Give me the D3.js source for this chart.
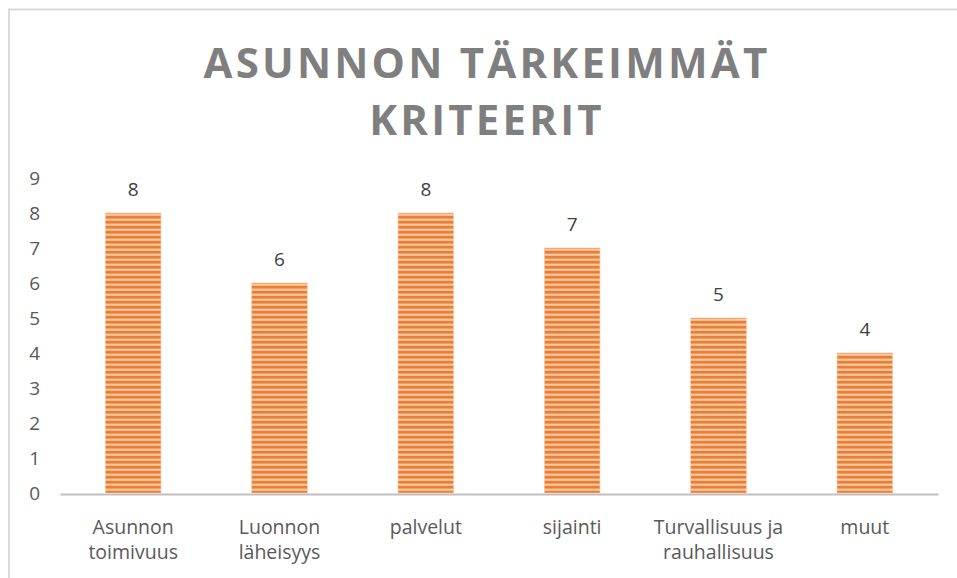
<!DOCTYPE html>
<html><head><meta charset="utf-8">
<script src="https://cdn.jsdelivr.net/npm/d3@7/dist/d3.min.js"></script>
<style>body{margin:0;background:#fff}svg{display:block}</style>
</head><body>
<script>
const categories = [["Asunnon","toimivuus"],["Luonnon","läheisyys"],["palvelut"],["sijainti"],["Turvallisuus ja","rauhallisuus"],["muut"]];
const values = [8,6,8,7,5,4];
const yTicks = [0,1,2,3,4,5,6,7,8,9];
const titleLines = ["ASUNNON TÄRKEIMMÄT","KRITEERIT"];

const W=957,H=578;
const svg=d3.select("body").append("svg").attr("width",W).attr("height",H);
const font="'Open Sans', sans-serif";

// frame
svg.append("path").attr("d",`M9,${H} L9,9.5 L${W},9.5`).attr("fill","none").attr("stroke","#d9d9d9").attr("stroke-width",2);

const defs=svg.append("defs");
const pat=defs.append("pattern").attr("id","stripes").attr("patternUnits","userSpaceOnUse").attr("width",10).attr("height",5);
pat.append("rect").attr("width",10).attr("height",5).attr("fill","#f8caa6");
pat.append("rect").attr("width",10).attr("height",2.8).attr("y",0.8).attr("fill","#ed7d31");

const x=d3.scaleBand().domain(d3.range(categories.length)).range([60,938]).paddingInner(0.62).paddingOuter(0.31);
const y=d3.scaleLinear().domain([0,9]).range([493,178]);

// title
const t=svg.append("text").attr("text-anchor","middle").attr("font-family",font).attr("font-weight","bold")
 .attr("font-size",42).attr("fill","#7f7f7f").attr("letter-spacing",3.2);
titleLines.forEach((l,i)=>t.append("tspan").attr("x",487).attr("y",78+i*57).text(l));

// y axis labels
const ya=svg.append("g").attr("transform","translate(40,0)").call(d3.axisLeft(y).tickValues(yTicks).tickSize(0).tickPadding(0));
ya.select(".domain").remove();
ya.selectAll("text").attr("font-family",font).attr("font-size",19).attr("fill","#595959");

// bars
svg.selectAll("rect.bar").data(values).join("rect").attr("class","bar")
 .attr("x",(d,i)=>x(i)).attr("width",x.bandwidth()).attr("y",d=>y(d)).attr("height",d=>y(0)-y(d))
 .attr("fill","url(#stripes)").attr("stroke","#f7c9a5").attr("stroke-width",0.6);

// x axis
const xa=svg.append("g").attr("transform",`translate(0,${y(0)+1})`).call(d3.axisBottom(x).tickSize(0).tickFormat(""));
xa.select(".domain").attr("stroke","#bfbfbf").attr("stroke-width",2.2);

// category labels
svg.selectAll("text.cat").data(categories).join("text").attr("class","cat")
 .attr("text-anchor","middle").attr("font-family",font).attr("font-size",19.5).attr("fill","#595959")
 .each(function(d,i){
   const s=d3.select(this);
   d.forEach((l,j)=>s.append("tspan").attr("x",x(i)+x.bandwidth()/2).attr("y",534+j*25).text(l));
 });

// value labels
svg.selectAll("text.val").data(values).join("text").attr("class","val")
 .attr("text-anchor","middle").attr("font-family",font).attr("font-size",19).attr("fill","#404040")
 .attr("x",(d,i)=>x(i)+x.bandwidth()/2).attr("y",d=>y(d)-17).text(d=>d);
</script>
</body></html>
